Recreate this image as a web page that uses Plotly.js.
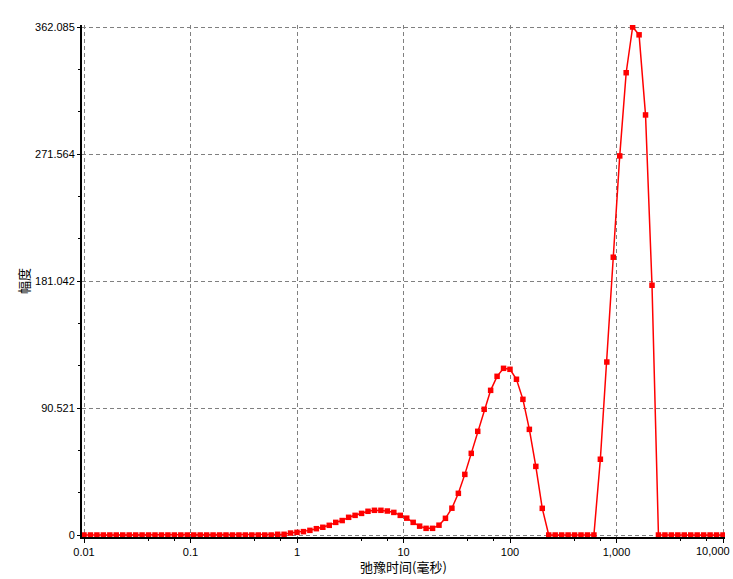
<!DOCTYPE html>
<html>
<head>
<meta charset="utf-8">
<script src="https://cdn.plot.ly/plotly-3.0.1.min.js"></script>
<style>html,body{margin:0;padding:0;background:#fff;}#chart{width:733px;height:579px;}</style>
</head>
<body>
<div id="chart"></div>
<script>
// Relaxation time (ms), 100 log-spaced samples
var relaxTime = [
 0.01, 0.011498, 0.013219, 0.015199, 0.017476, 0.020093, 0.023102, 0.026562, 0.03054, 0.035113,
 0.040372, 0.046416, 0.053367, 0.061359, 0.070548, 0.081113, 0.09326, 0.10723, 0.12328, 0.14175,
 0.16298, 0.18738, 0.21544, 0.24771, 0.2848, 0.32745, 0.37649, 0.43288, 0.4977, 0.57224,
 0.65794, 0.75646, 0.86974, 1, 1.1498, 1.3219, 1.5199, 1.7476, 2.0093, 2.3102,
 2.6562, 3.054, 3.5113, 4.0372, 4.6416, 5.3367, 6.1359, 7.0548, 8.1113, 9.326,
 10.723, 12.328, 14.175, 16.298, 18.738, 21.544, 24.771, 28.48, 32.745, 37.649,
 43.288, 49.77, 57.224, 65.794, 75.646, 86.974, 100, 114.98, 132.19, 151.99,
 174.76, 200.93, 231.02, 265.62, 305.4, 351.13, 403.72, 464.16, 533.67, 613.59,
 705.48, 811.13, 932.6, 1072.3, 1232.8, 1417.5, 1629.8, 1873.8, 2154.4, 2477.1,
 2848, 3274.5, 3764.9, 4328.8, 4977, 5722.4, 6579.4, 7564.6, 8697.4, 10000
];
// Amplitude
var amplitude = [
 0, 0, 0, 0, 0, 0, 0, 0, 0, 0,
 0, 0, 0, 0, 0, 0, 0, 0, 0, 0,
 0, 0, 0, 0, 0, 0, 0, 0, 0, 0,
 0.5, 0.5, 1.4, 1.9, 2.4, 3.3, 4.5, 5.5, 6.9, 9.0,
 10.3, 12.6, 14.0, 15.4, 16.9, 17.6, 17.6, 17.1, 16.1, 14.0,
 12.0, 9.0, 6.3, 4.75, 4.75, 7.0, 11.9, 19.1, 29.7, 43.2,
 58.2, 73.9, 89.6, 103.1, 113.1, 118.8, 118.1, 111.0, 96.7, 75.3,
 48.9, 19.0, 0, 0, 0, 0, 0, 0, 0, 0,
 54.0, 123.3, 198.0, 270.2, 329.5, 362.085, 356.5, 299.4, 178.0, 0,
 0, 0, 0, 0, 0, 0, 0, 0, 0, 0
];
var xTickVals = [0.01, 0.1, 1, 10, 100, 1000, 10000];
var xTickText = ["0.01", "0.1", "1", "10", "100", "1,000", ""];
var xLastTickText = "10,000";
var xMinorVals = [0.04, 0.07, 0.4, 0.7, 4, 7, 40, 70, 400, 700, 4000, 7000];
var yTickVals = [0, 90.521, 181.042, 271.564, 362.085];
var yTickText = ["0", "90.521", "181.042", "271.564", "362.085"];
var yMinorVals = [30.174, 60.347, 120.695, 150.868, 211.215, 241.389, 301.737, 331.911];
var xTitle = "弛豫时间(毫秒)";
var yTitle = "幅度";

var tickFont = {family: "Liberation Sans, Arial, sans-serif", size: 11, color: "#000"};
var titleFont = {family: "Noto Sans CJK SC, sans-serif", size: 13, color: "#000"};

var trace = {
  x: relaxTime, y: amplitude, type: "scatter", mode: "lines+markers",
  line: {color: "#ff0000", width: 1.5},
  marker: {symbol: "square", size: 5.5, color: "#ff0000", line: {width: 0}},
  hoverinfo: "skip"
};

var axisCommon = {
  showline: true, linewidth: 2, linecolor: "#000",
  ticks: "outside", ticklen: 4, tickwidth: 1, tickcolor: "#000",
  showgrid: true, gridcolor: "#808080", gridwidth: 1, griddash: "4px,3px",
  zeroline: false, tickfont: tickFont, tickmode: "array",
  ticklabeloverflow: "allow"
};

var layout = {
  width: 733, height: 579,
  margin: {l: 82, r: 8, t: 25, b: 42},
  paper_bgcolor: "#fff", plot_bgcolor: "#fff",
  showlegend: false,
  xaxis: Object.assign({}, axisCommon, {
    type: "log", range: [-2.01878, 4.01878],
    tickvals: xTickVals, ticktext: xTickText,
    minor: {tickmode: "array", tickvals: xMinorVals, ticks: "outside", ticklen: 2, tickcolor: "#000", showgrid: false}
  }),
  yaxis: Object.assign({}, axisCommon, {
    range: [-1.425, 363.51],
    tickvals: yTickVals, ticktext: yTickText, ticklen: 3,
    minor: {tickmode: "array", tickvals: yMinorVals, ticks: "outside", ticklen: 2, tickcolor: "#000", showgrid: false}
  }),
  annotations: [
    {text: xLastTickText, xref: "paper", yref: "paper", x: 1, y: 0, xshift: 7, yshift: -14, xanchor: "right", yanchor: "middle", showarrow: false, font: tickFont},
    {text: xTitle, xref: "paper", yref: "paper", x: 0.5, y: 0, yshift: -29, xanchor: "center", yanchor: "middle", showarrow: false, font: titleFont},
    {text: yTitle, xref: "paper", yref: "paper", x: 0, y: 0.5, xshift: -59, xanchor: "center", yanchor: "middle", textangle: -90, showarrow: false, font: titleFont}
  ]
};

Plotly.newPlot("chart", [trace], layout, {staticPlot: true, displayModeBar: false});
</script>
</body>
</html>
